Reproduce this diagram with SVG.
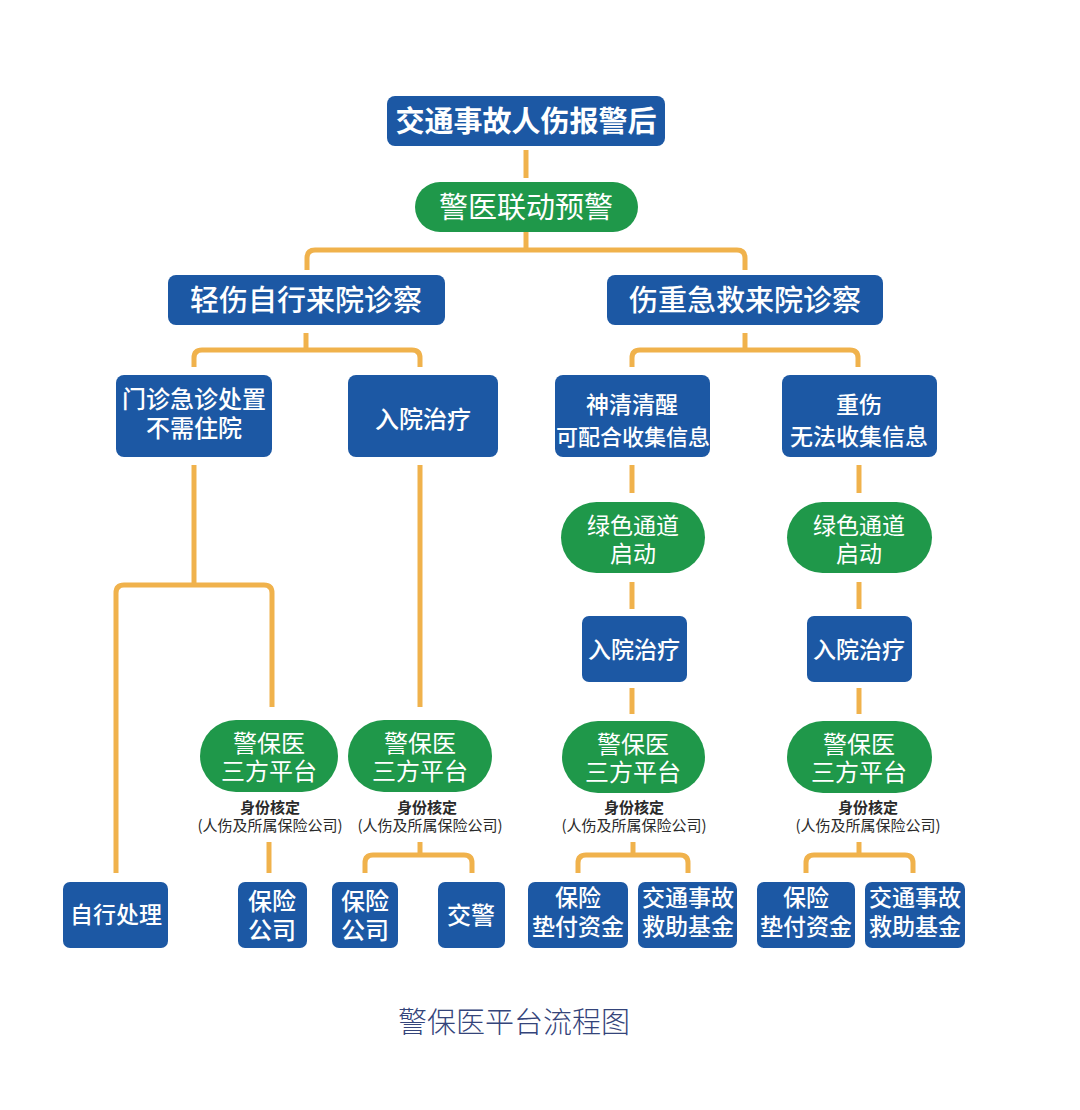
<svg xmlns="http://www.w3.org/2000/svg" width="1080" height="1110" viewBox="0 0 1080 1110">
<style>
.b{fill:#1c58a4}
.g{fill:#1f984a}
.t{fill:#fff;font-family:"Noto Sans CJK SC","Noto Sans",sans-serif;text-anchor:middle}
.m{font-weight:500}
.s{fill:#2a2a2a;font-family:"Noto Sans CJK SC","Noto Sans",sans-serif;text-anchor:middle;font-size:15px}
.c{fill:none;stroke:#f0b24c;stroke-width:5}
</style>
<rect width="1080" height="1110" fill="#fff"/>
<g id="connectors" class="c">
<path d="M526 150 V178"/>
<path d="M526 232 V250"/>
<path d="M307 270 V258 Q307 250 315 250 H737 Q745 250 745 258 V270"/>
<path d="M306 333 V350"/>
<path d="M194 367 V358 Q194 350 202 350 H412 Q420 350 420 358 V367"/>
<path d="M745 333 V350"/>
<path d="M632 367 V358 Q632 350 640 350 H850 Q858 350 858 358 V367"/>
<path d="M194 465 V585"/>
<path d="M116 873 V593 Q116 585 124 585 H264 Q272 585 272 593 V707"/>
<path d="M420 465 V707"/>
<path d="M269 842 V873"/>
<path d="M420 842 V855"/>
<path d="M365 873 V863 Q365 855 373 855 H464 Q472 855 472 863 V873"/>
<path d="M632 465 V493"/>
<path d="M632 582 V609"/>
<path d="M632 688 V714"/>
<path d="M633 842 V855"/>
<path d="M578 873 V863 Q578 855 586 855 H680 Q688 855 688 863 V873"/>
<path d="M859 465 V493"/>
<path d="M859 582 V609"/>
<path d="M859 688 V714"/>
<path d="M859 842 V855"/>
<path d="M806 873 V863 Q806 855 814 855 H905 Q913 855 913 863 V873"/>
</g>
<g id="n-top"><rect class="b" x="387" y="96" width="278" height="50" rx="8"/><text class="t" x="526" y="132" font-size="29" font-weight="bold">交通事故人伤报警后</text></g>
<g id="n-alert"><rect class="g" x="415" y="182" width="223" height="50" rx="25"/><text class="t" x="526" y="218" font-size="29">警医联动预警</text></g>
<g id="n-light"><rect class="b" x="168" y="275" width="277" height="50" rx="8"/><text class="t m" x="306" y="311" font-size="29">轻伤自行来院诊察</text></g>
<g id="n-heavy"><rect class="b" x="607" y="275" width="276" height="50" rx="8"/><text class="t m" x="745" y="311" font-size="29">伤重急救来院诊察</text></g>
<g id="n-outpatient"><rect class="b" x="116" y="375" width="156" height="82" rx="8"/><text class="t m" font-size="24"><tspan x="194" y="408">门诊急诊处置</tspan><tspan x="194" y="437">不需住院</tspan></text></g>
<g id="n-admit1"><rect class="b" x="348" y="375" width="150" height="82" rx="8"/><text class="t m" x="423" y="428" font-size="24">入院治疗</text></g>
<g id="n-conscious"><rect class="b" x="555" y="375" width="155" height="82" rx="8"/><text class="t m" font-size="23"><tspan x="632" y="413">神清清醒</tspan><tspan x="633" y="445" font-size="22">可配合收集信息</tspan></text></g>
<g id="n-severe"><rect class="b" x="782" y="375" width="155" height="82" rx="8"/><text class="t m" font-size="23"><tspan x="859" y="413">重伤</tspan><tspan x="859" y="445">无法收集信息</tspan></text></g>
<g id="n-green1"><rect class="g" x="561" y="502" width="144" height="71" rx="35.5"/><text class="t" font-size="23"><tspan x="633" y="534">绿色通道</tspan><tspan x="633" y="562">启动</tspan></text></g>
<g id="n-green2"><rect class="g" x="787" y="502" width="145" height="71" rx="35.5"/><text class="t" font-size="23"><tspan x="859" y="534">绿色通道</tspan><tspan x="859" y="562">启动</tspan></text></g>
<g id="n-admit2"><rect class="b" x="582" y="616" width="105" height="66" rx="7"/><text class="t m" x="634" y="658" font-size="23">入院治疗</text></g>
<g id="n-admit3"><rect class="b" x="807" y="616" width="105" height="66" rx="7"/><text class="t m" x="859" y="658" font-size="23">入院治疗</text></g>
<g id="n-plat1"><rect class="g" x="200" y="720" width="138" height="72" rx="36"/><text class="t" font-size="24"><tspan x="269" y="752">警保医</tspan><tspan x="269" y="780">三方平台</tspan></text><text class="s"><tspan x="270" y="813" font-weight="bold">身份核定</tspan><tspan x="270" y="831">(人伤及所属保险公司)</tspan></text></g>
<g id="n-plat2"><rect class="g" x="348" y="720" width="144" height="72" rx="36"/><text class="t" font-size="24"><tspan x="420" y="752">警保医</tspan><tspan x="420" y="780">三方平台</tspan></text><text class="s"><tspan x="427" y="813" font-weight="bold">身份核定</tspan><tspan x="430" y="831">(人伤及所属保险公司)</tspan></text></g>
<g id="n-plat3"><rect class="g" x="562" y="721" width="143" height="72" rx="36"/><text class="t" font-size="24"><tspan x="633" y="753">警保医</tspan><tspan x="633" y="781">三方平台</tspan></text><text class="s"><tspan x="634" y="813" font-weight="bold">身份核定</tspan><tspan x="634" y="831">(人伤及所属保险公司)</tspan></text></g>
<g id="n-plat4"><rect class="g" x="787" y="721" width="145" height="72" rx="36"/><text class="t" font-size="24"><tspan x="859" y="753">警保医</tspan><tspan x="859" y="781">三方平台</tspan></text><text class="s"><tspan x="868" y="813" font-weight="bold">身份核定</tspan><tspan x="868" y="831">(人伤及所属保险公司)</tspan></text></g>
<g id="n-self"><rect class="b" x="63" y="882" width="105" height="66" rx="7"/><text class="t m" x="116" y="923" font-size="23">自行处理</text></g>
<g id="n-ins1"><rect class="b" x="238" y="882" width="69" height="66" rx="7"/><text class="t m" font-size="24"><tspan x="272" y="910">保险</tspan><tspan x="272" y="939">公司</tspan></text></g>
<g id="n-ins2"><rect class="b" x="332" y="882" width="66" height="66" rx="7"/><text class="t m" font-size="24"><tspan x="365" y="910">保险</tspan><tspan x="365" y="939">公司</tspan></text></g>
<g id="n-police"><rect class="b" x="438" y="882" width="67" height="66" rx="7"/><text class="t m" x="471" y="924" font-size="24">交警</text></g>
<g id="n-fund1"><rect class="b" x="528" y="882" width="100" height="66" rx="7"/><text class="t m" font-size="23"><tspan x="578" y="906">保险</tspan><tspan x="578" y="935">垫付资金</tspan></text></g>
<g id="n-aid1"><rect class="b" x="638" y="882" width="99" height="66" rx="7"/><text class="t m" font-size="23"><tspan x="688" y="906">交通事故</tspan><tspan x="688" y="935">救助基金</tspan></text></g>
<g id="n-fund2"><rect class="b" x="757" y="882" width="98" height="66" rx="7"/><text class="t m" font-size="23"><tspan x="806" y="906">保险</tspan><tspan x="806" y="935">垫付资金</tspan></text></g>
<g id="n-aid2"><rect class="b" x="865" y="882" width="100" height="66" rx="7"/><text class="t m" font-size="23"><tspan x="915" y="906">交通事故</tspan><tspan x="915" y="935">救助基金</tspan></text></g>
<text x="514" y="1033" font-family="'Noto Sans CJK SC','Noto Sans',sans-serif" font-size="29" font-weight="300" fill="#34447a" text-anchor="middle">警保医平台流程图</text>
</svg>
